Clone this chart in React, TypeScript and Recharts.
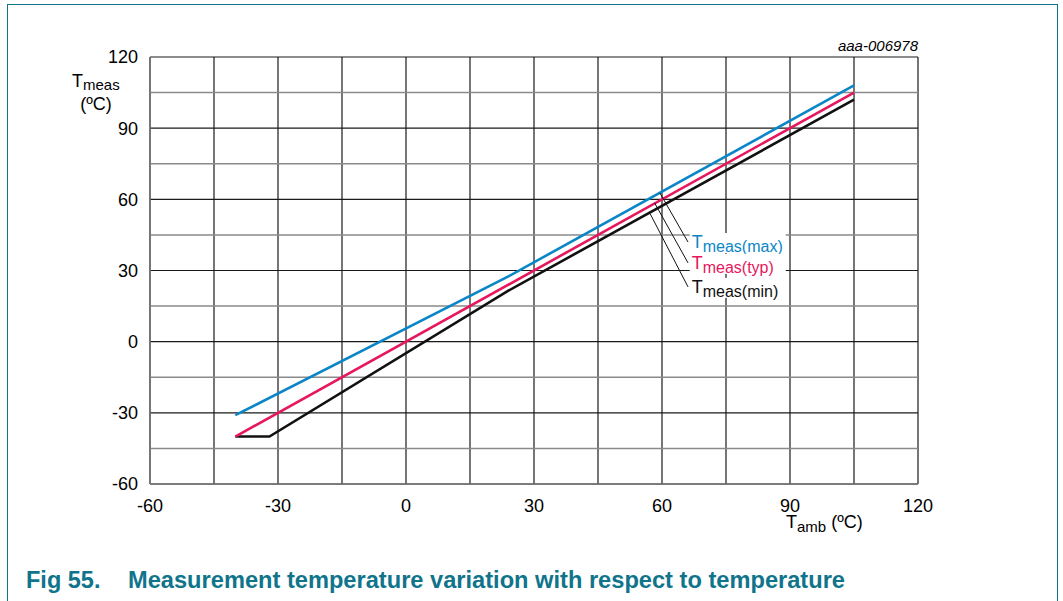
import React from "react";
import { LineChart, Line, XAxis, YAxis, CartesianGrid, ReferenceLine, ReferenceDot } from "recharts";

// Tamb / Tmeas points (ºC)
const maxAmb = [-40, 24, 105];
const maxMeas = [-31, 27.5, 108];
const typAmb = [-40, 105];
const typMeas = [-40, 105];
const minAmb = [-40, -32, 24, 105];
const minMeas = [-40, -40, 21.5, 102];

const axisTicks = [-60, -30, 0, 30, 60, 90, 120];
const minorTicks = [-45, -15, 15, 45, 75, 105];
const allTicks = [-60, -45, -30, -15, 0, 15, 30, 45, 60, 75, 90, 105, 120];

// callout labels: name, colour, label anchor, leader end on curve
const callouts = [
  { name: "meas(max)", color: "#0a86c8", at: [66.5, 42], end: [59.5, 62.7] },
  { name: "meas(typ)", color: "#e6175c", at: [66.5, 33.2], end: [58.3, 58.4] },
  { name: "meas(min)", color: "#111111", at: [66.5, 23.1], end: [57.2, 54] },
];

const toPts = (xs: number[], ys: number[]) => xs.map((x, i) => ({ x, y: ys[i] }));

const FONT = "'Liberation Sans', Arial, sans-serif";
const TEAL = "#10748b";

function CalloutLabel(props: any) {
  const { cx, cy, text, color } = props;
  return (
    <g>
      <rect x={cx} y={cy - 9} width={96} height={20} fill="#fff" />
      <text x={cx + 2} y={cy + 6} fontFamily={FONT} fill={color}>
        <tspan fontSize={18}>T</tspan>
        <tspan fontSize={16} dy={4}>{text}</tspan>
      </text>
    </g>
  );
}

export default function App() {
  return (
    <div style={{ position: "absolute", left: 0, top: 0, width: 1063, height: 601, background: "#fff", fontFamily: FONT }}>
      <div
        style={{
          position: "absolute",
          left: 7,
          top: 4,
          width: 1051,
          height: 610,
          border: `1.5px solid ${TEAL}`,
          boxSizing: "border-box",
        }}
      />
      <LineChart
        width={1063}
        height={601}
        margin={{ top: 57, right: 145, bottom: 87, left: 90 }}
        style={{ position: "absolute", left: 0, top: 0 }}
      >
        <CartesianGrid horizontal={false} verticalValues={allTicks} stroke="#1a1a1a" strokeWidth={1.2} />
        <CartesianGrid vertical={false} horizontalValues={minorTicks} stroke="#8a8a8a" strokeWidth={1.5} />
        <CartesianGrid vertical={false} horizontalValues={axisTicks} stroke="#1a1a1a" strokeWidth={1.2} />
        <XAxis
          type="number"
          dataKey="x"
          domain={[-60, 120]}
          ticks={axisTicks}
          allowDataOverflow
          axisLine={{ stroke: "#777", strokeWidth: 1.5 }}
          tickLine={false}
          tickSize={0}
          tickMargin={15}
          tick={{ fill: "#000", fontSize: 18, fontFamily: FONT }}
          height={30}
        />
        <YAxis
          type="number"
          dataKey="y"
          domain={[-60, 120]}
          ticks={axisTicks}
          allowDataOverflow
          axisLine={{ stroke: "#777", strokeWidth: 1.5 }}
          tickLine={false}
          tickSize={0}
          tickMargin={12}
          tick={{ fill: "#000", fontSize: 18, fontFamily: FONT }}
          width={60}
        />
        <Line data={toPts(minAmb, minMeas)} dataKey="y" stroke="#111" strokeWidth={2.6} dot={false} isAnimationActive={false} />
        <Line data={toPts(typAmb, typMeas)} dataKey="y" stroke="#e6175c" strokeWidth={2.6} dot={false} isAnimationActive={false} />
        <Line data={toPts(maxAmb, maxMeas)} dataKey="y" stroke="#0a86c8" strokeWidth={2.6} dot={false} isAnimationActive={false} />
        {callouts.map((c) => (
          <ReferenceLine
            key={"l" + c.name}
            segment={[
              { x: c.at[0] - 0.4, y: c.at[1] },
              { x: c.end[0], y: c.end[1] },
            ]}
            stroke="#111"
            strokeWidth={1}
          />
        ))}
        {callouts.map((c) => (
          <ReferenceDot
            key={"d" + c.name}
            x={c.at[0]}
            y={c.at[1]}
            shape={(p: any) => <CalloutLabel {...p} text={c.name} color={c.color} />}
          />
        ))}
      </LineChart>
      <svg width={1063} height={601} style={{ position: "absolute", left: 0, top: 0, pointerEvents: "none" }}>
        <text x={72} y={87} fontFamily={FONT} fill="#000">
          <tspan fontSize={18}>T</tspan>
          <tspan fontSize={15} dy={3}>meas</tspan>
        </text>
        <text x={96} y={110} fontFamily={FONT} fontSize={18} fill="#000" textAnchor="middle">(ºC)</text>
        <text x={918} y={51} fontFamily={FONT} fontSize={15} fontStyle="italic" fill="#000" textAnchor="end">aaa-006978</text>
        <text x={786} y={528} fontFamily={FONT} fill="#000">
          <tspan fontSize={18}>T</tspan>
          <tspan fontSize={15} dy={4}>amb</tspan>
          <tspan fontSize={18} dy={-4}> (ºC)</tspan>
        </text>
        <text x={26} y={588} fontFamily={FONT} fontSize={23.5} fontWeight="bold" fill={TEAL}>Fig 55.</text>
        <text
          x={128}
          y={588}
          fontFamily={FONT}
          fontSize={23.5}
          fontWeight="bold"
          fill={TEAL}
          textLength={717}
          lengthAdjust="spacingAndGlyphs"
        >
          Measurement temperature variation with respect to temperature
        </text>
      </svg>
    </div>
  );
}
